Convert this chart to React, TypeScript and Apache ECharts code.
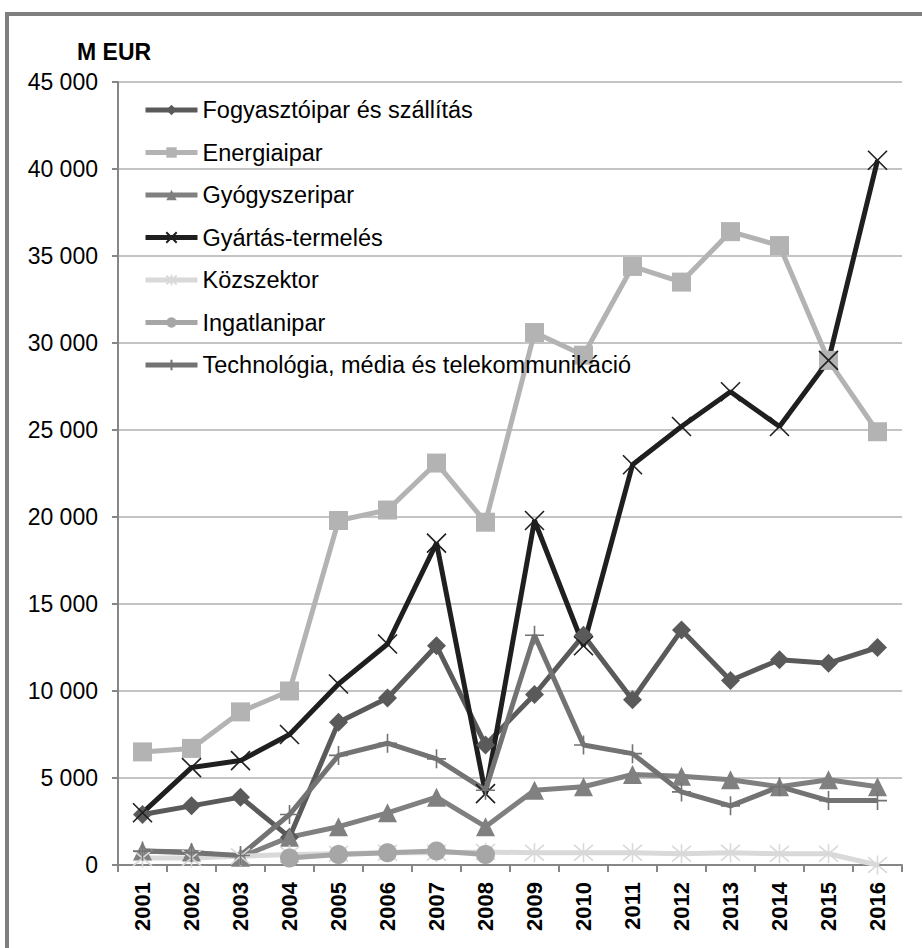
import React, { useEffect, useRef } from "react";
import * as echarts from "echarts";

const years = ["2001","2002","2003","2004","2005","2006","2007","2008","2009","2010","2011","2012","2013","2014","2015","2016"];

const fogyasztoipar = [2900, 3400, 3900, 1600, 8200, 9600, 12600, 6900, 9800, 13200, 9500, 13500, 10600, 11800, 11600, 12500];
const energiaipar = [6500, 6700, 8800, 10000, 19800, 20400, 23100, 19700, 30600, 29300, 34400, 33500, 36400, 35600, 29000, 24900];
const gyogyszeripar = [800, 750, 450, 1600, 2200, 3000, 3900, 2200, 4300, 4500, 5200, 5100, 4900, 4500, 4900, 4500];
const gyartas = [3000, 5600, 6000, 7500, 10400, 12700, 18500, 4100, 19800, 12600, 23000, 25200, 27200, 25200, 29000, 40500];
const kozszektor = [400, 400, 500, 600, 650, 700, 700, 750, 700, 700, 700, 650, 700, 650, 650, 0];
const ingatlanipar = [null, null, null, 400, 600, 700, 800, 600, null, null, null, null, null, null, null, null];
const technologia = [800, 700, 550, 2900, 6300, 7000, 6100, 4300, 13200, 6900, 6400, 4200, 3400, 4500, 3700, 3700];

const yTicks = { min: 0, max: 45000, interval: 5000 };

const FONT = "'Liberation Sans', Arial, sans-serif";

const X_PATH = "path://M0 0 L10 10 M10 0 L0 10";
const STAR_PATH = "path://M0 0 L10 10 M10 0 L0 10 M5 -1 L5 11";
const PLUS_PATH = "path://M5 0 L5 10 M0 5 L10 5";

function fmt(v: number): string {
  if (v === 0) return "0";
  const s = String(v);
  return s.slice(0, s.length - 3) + " " + s.slice(s.length - 3);
}

export default function App() {
  const ref = useRef<HTMLDivElement>(null);
  useEffect(() => {
    document.body.style.margin = "0";
    const chart = echarts.init(ref.current!, null, { renderer: "svg" });
    const lineSeries = (name: string, data: any[], color: string, symbol: string, size: number, width: number, extra: any = {}) => ({
      name,
      type: "line",
      data,
      symbol,
      symbolSize: size,
      showSymbol: true,
      connectNulls: false,
      lineStyle: { color, width },
      itemStyle: { color, borderColor: color, borderWidth: 0, opacity: 1 },
      emphasis: { disabled: true },
      ...extra,
    });
    chart.setOption({
      animation: false,
      backgroundColor: "#ffffff",
      textStyle: { fontFamily: FONT },
      title: {
        text: "M EUR",
        left: 77,
        top: 40,
        padding: 0,
        textStyle: { fontFamily: FONT, fontSize: 23, fontWeight: "bold", color: "#000" },
      },
      legend: {
        orient: "vertical",
        left: 138,
        top: 93,
        itemWidth: 52,
        itemHeight: 13,
        itemGap: 18.5,
        lineStyle: { width: 5 },
        textStyle: { fontFamily: FONT, fontSize: 23.5, color: "#000", lineHeight: 24 },
        data: [
          "Fogyasztóipar és szállítás",
          "Energiaipar",
          "Gyógyszeripar",
          "Gyártás-termelés",
          "Közszektor",
          "Ingatlanipar",
          "Technológia, média és telekommunikáció",
        ],
      },
      grid: { left: 118, right: 20, top: 82, bottom: 83, containLabel: false },
      xAxis: {
        type: "category",
        data: years,
        boundaryGap: true,
        axisLine: { show: true, lineStyle: { color: "#868686", width: 2 } },
        axisTick: { show: true, length: 7, alignWithLabel: false, lineStyle: { color: "#868686", width: 2 } },
        axisLabel: { rotate: 90, margin: 17, fontFamily: FONT, fontSize: 22, fontWeight: "bold", color: "#000" },
        splitLine: { show: false },
      },
      yAxis: {
        type: "value",
        min: yTicks.min,
        max: yTicks.max,
        interval: yTicks.interval,
        axisLine: { show: true, lineStyle: { color: "#868686", width: 2 } },
        axisTick: { show: true, length: 6, inside: false, lineStyle: { color: "#868686", width: 2 } },
        axisLabel: { margin: 20, fontFamily: FONT, fontSize: 23, color: "#000", formatter: (v: number) => fmt(v) },
        splitLine: { show: true, lineStyle: { color: "#c4c4c4", width: 2 } },
      },
      graphic: [
        {
          type: "rect",
          shape: { x: 7, y: 14, width: 940, height: 960 },
          style: { fill: "none", stroke: "#7f7f7f", lineWidth: 4 },
          silent: true,
          z: 100,
        },
      ],
      series: [
        lineSeries("Fogyasztóipar és szállítás", fogyasztoipar, "#5a5a5a", "diamond", 19, 5),
        lineSeries("Energiaipar", energiaipar, "#b3b3b3", "rect", 19, 5),
        lineSeries("Gyógyszeripar", gyogyszeripar, "#808080", "triangle", 19, 5),
        lineSeries("Gyártás-termelés", gyartas, "#1f1f1f", X_PATH, 19, 5, {
          itemStyle: { color: "#1f1f1f", borderColor: "#1f1f1f", borderWidth: 1.6 },
        }),
        lineSeries("Közszektor", kozszektor, "#d9d9d9", STAR_PATH, 19, 5, {
          itemStyle: { color: "#d9d9d9", borderColor: "#d9d9d9", borderWidth: 1.6 },
        }),
        lineSeries("Ingatlanipar", ingatlanipar, "#a6a6a6", "circle", 19, 5),
        lineSeries("Technológia, média és telekommunikáció", technologia, "#737373", PLUS_PATH, 19, 5, {
          itemStyle: { color: "#737373", borderColor: "#737373", borderWidth: 1.6 },
        }),
      ],
    });
    return () => chart.dispose();
  }, []);
  return (
    <div
      ref={ref}
      style={{ position: "absolute", left: 0, top: 0, width: 922, height: 948 }}
    />
  );
}
